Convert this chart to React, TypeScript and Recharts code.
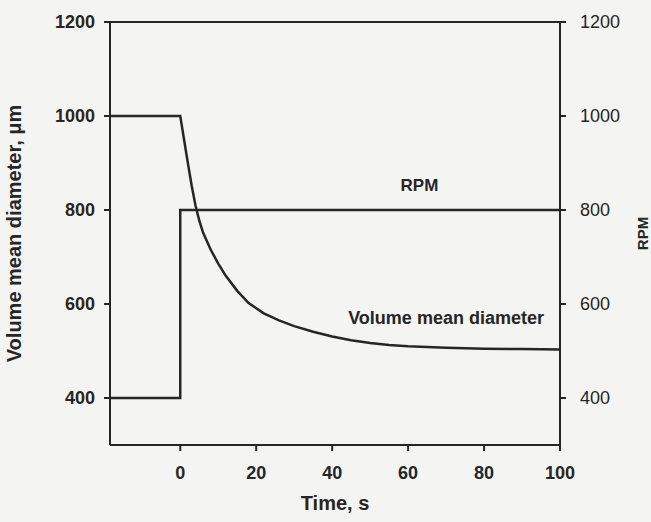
import { LineChart, Line, XAxis, YAxis, ReferenceLine, ReferenceDot } from "recharts";

// time, s
const timeStart = -18.5;
const timeTicks = [0, 20, 40, 60, 80, 100];
const yTicks = [400, 600, 800, 1000, 1200];

// RPM step at t = 0
const rpmTime = [timeStart, 0, 0, 100];
const rpmValue = [400, 400, 800, 800];

// volume mean diameter, um
const vmdTime = [timeStart, 0, 1, 2, 3, 4, 5, 6, 8, 10, 12, 15, 18, 22, 26, 30, 35, 40, 45, 50, 55, 60, 70, 80, 90, 100];
const vmdValue = [1000, 1000, 950, 900, 852, 810, 778, 752, 716, 686, 660, 628, 602, 580, 565, 553, 541, 531, 523, 517, 513, 510, 507, 505, 504, 503];

const rpmData = rpmTime.map((t, i) => ({ t, v: rpmValue[i] }));
const vmdData = vmdTime.map((t, i) => ({ t, v: vmdValue[i] }));

const ink = "#262626";
const font = "'Liberation Sans', Arial, sans-serif";

export default function App() {
  return (
    <div style={{ position: "absolute", left: 0, top: 0, width: 651, height: 522, background: "#f4f4f2", fontFamily: font }}>
      <LineChart width={651} height={522} margin={{ top: 22, right: 0, bottom: 0, left: 0 }}>
        <XAxis
          type="number"
          dataKey="t"
          domain={[timeStart, 100]}
          ticks={timeTicks}
          allowDataOverflow
          height={77}
          tickSize={6}
          tickMargin={15}
          stroke={ink}
          strokeWidth={2}
          tick={{ fill: ink, fontSize: 18, fontWeight: "bold", fontFamily: font }}
          label={{ value: "Time, s", position: "insideBottom", offset: 12, fill: ink, fontSize: 20, fontWeight: "bold", fontFamily: font }}
        />
        <YAxis
          yAxisId="left"
          type="number"
          domain={[300, 1200]}
          ticks={yTicks}
          allowDataOverflow
          width={110}
          tickSize={6}
          tickMargin={9}
          stroke={ink}
          strokeWidth={2}
          tick={{ fill: ink, fontSize: 18, fontWeight: "bold", fontFamily: font }}
          label={{ value: "Volume mean diameter, μm", angle: -90, position: "insideLeft", offset: 14, fill: ink, fontSize: 20, fontWeight: "bold", fontFamily: font, style: { textAnchor: "middle" } }}
        />
        <YAxis
          yAxisId="right"
          orientation="right"
          type="number"
          domain={[300, 1200]}
          ticks={yTicks}
          allowDataOverflow
          width={91}
          tickSize={6}
          tickMargin={14}
          stroke={ink}
          strokeWidth={2}
          tick={{ fill: ink, fontSize: 18, fontFamily: font }}
          label={{ value: "RPM", angle: -90, position: "insideRight", offset: 8, fill: ink, fontSize: 15, fontWeight: "bold", fontFamily: font, style: { textAnchor: "middle" } }}
        />
        <ReferenceLine yAxisId="left" y={1200} stroke={ink} strokeWidth={2} />
        <Line yAxisId="right" data={rpmData} dataKey="v" type="linear" stroke={ink} strokeWidth={2.5} dot={false} isAnimationActive={false} />
        <Line yAxisId="left" data={vmdData} dataKey="v" type="linear" stroke={ink} strokeWidth={2.5} dot={false} isAnimationActive={false} />
        <ReferenceDot yAxisId="left" x={63} y={853} r={0} label={{ value: "RPM", position: "center", fill: ink, fontSize: 17, fontWeight: "bold", fontFamily: font }} />
        <ReferenceDot yAxisId="left" x={70} y={570} r={0} label={{ value: "Volume mean diameter", position: "center", fill: ink, fontSize: 18, fontWeight: "bold", fontFamily: font }} />
      </LineChart>
    </div>
  );
}
